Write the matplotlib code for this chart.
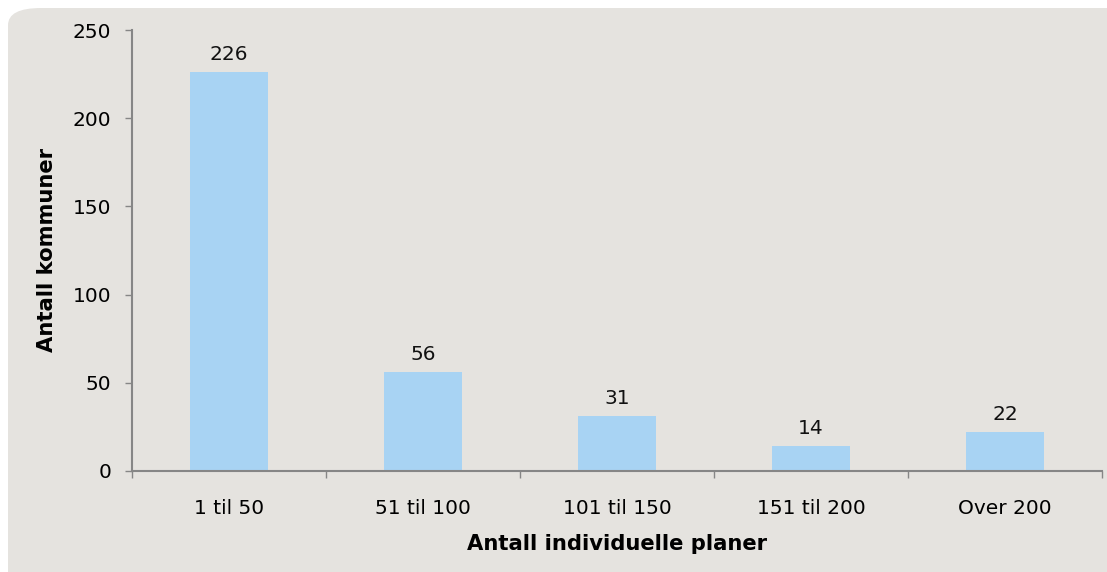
import matplotlib
matplotlib.use("Agg")
import matplotlib.pyplot as plt
from matplotlib.patches import FancyBboxPatch

categories = ["1 til 50", "51 til 100", "101 til 150", "151 til 200", "Over 200"]
values = [226, 56, 31, 14, 22]
yticks = [0, 50, 100, 150, 200, 250]

plt.rcParams['font.family'] = ['DejaVu Sans']
FS = 14.5
LFS = 15.2
fig = plt.figure(figsize=(11.07, 5.72), dpi=100)
fig.patch.set_facecolor('white')
bg = FancyBboxPatch((8/1107, -0.1), 1.1, 1.1 - 8/572, boxstyle="round,pad=0,rounding_size=0.03",
                    transform=fig.transFigure, facecolor='#e5e3df', edgecolor='none', zorder=-10)
fig.patches.append(bg)

ax = fig.add_axes([132/1107, 1 - 471/572, (1102 - 132)/1107, (471 - 30)/572])
ax.set_facecolor('none')
x = list(range(len(categories)))
ax.bar(x, values, width=0.4, color='#a8d3f3', zorder=2)
for xi, v in zip(x, values):
    ax.annotate(str(v), (xi, v), xytext=(0, 6), textcoords='offset points',
                ha='center', va='bottom', fontsize=FS, color='#111111')
ax.set_xlim(-0.5, len(categories) - 0.5)
ax.set_ylim(0, 250)
ax.set_yticks(yticks)
ax.set_yticklabels([str(t) for t in yticks], fontsize=FS)
ax.set_xticks(x)
ax.set_xticklabels(categories, fontsize=FS)
ax.tick_params(axis='x', length=0, pad=20)
ax.set_xticks([i - 0.5 for i in range(len(categories) + 1)], minor=True)
ax.tick_params(axis='x', which='minor', length=5, color='#868686', width=1)
ax.tick_params(axis='y', length=5, color='#868686', width=1, pad=10)
for s in ['top', 'right']:
    ax.spines[s].set_visible(False)
for s in ['left', 'bottom']:
    ax.spines[s].set_color('#868686')
    ax.spines[s].set_linewidth(1.5)
ax.set_ylabel("Antall kommuner", fontsize=LFS, fontweight='bold', labelpad=11)
ax.set_xlabel("Antall individuelle planer", fontsize=LFS, fontweight='bold', labelpad=12)
fig.savefig("out.png", dpi=100, facecolor='white')
